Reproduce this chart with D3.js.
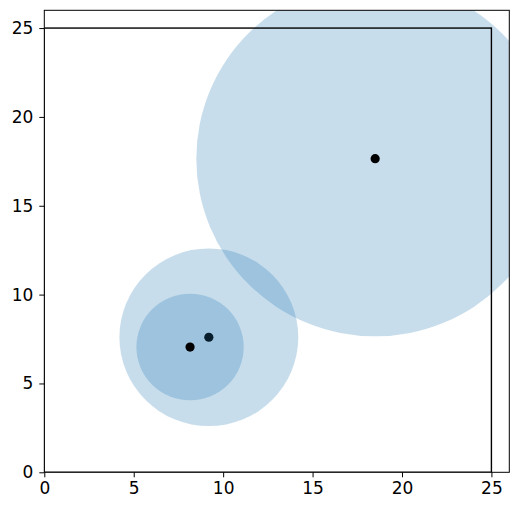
<!DOCTYPE html>
<html>
<head>
<meta charset="utf-8">
<script src="https://cdn.jsdelivr.net/npm/d3@7"></script>
<style>
  body { margin: 0; background: #fff; }
  svg { display: block; }
  .tick text { font-family: "DejaVu Sans", sans-serif; font-size: 17px; fill: #000; }
</style>
</head>
<body>
<script>
// data
const circleX = [8.15, 9.2, 18.5];
const circleY = [7.05, 7.6, 17.65];
const circleR = [3, 5, 10];
const pointX = [8.15, 9.2, 18.5];
const pointY = [7.05, 7.6, 17.65];
const boxSize = 25;
const ticks = [0, 5, 10, 15, 20, 25];

const w = 518, h = 511;
const margin = { left: 44.3, right: 8.7, top: 10.3, bottom: 38.7 };
const iw = w - margin.left - margin.right;
const ih = h - margin.top - margin.bottom;

const x = d3.scaleLinear().domain([0, 26]).range([0, iw]);
const y = d3.scaleLinear().domain([0, 26]).range([ih, 0]);

const svg = d3.select('body').append('svg')
  .attr('width', w)
  .attr('height', h);

svg.append('defs').append('clipPath')
  .attr('id', 'clip')
  .append('rect')
  .attr('width', iw)
  .attr('height', ih);

const g = svg.append('g')
  .attr('transform', `translate(${margin.left},${margin.top})`);

const plot = g.append('g').attr('clip-path', 'url(#clip)');

const fill = 'rgba(31,119,180,0.25)';

// draw order: small circle, middle point, middle circle, big circle, other points
const drawCircle = (i) => {
  plot.append('ellipse')
    .attr('cx', x(circleX[i]))
    .attr('cy', y(circleY[i]))
    .attr('rx', x(circleR[i]) - x(0))
    .attr('ry', y(0) - y(circleR[i]))
    .attr('fill', fill);
};
const drawPoint = (i) => {
  plot.append('circle')
    .attr('cx', x(pointX[i]))
    .attr('cy', y(pointY[i]))
    .attr('r', 4.6)
    .attr('fill', '#000');
};

drawCircle(0);
drawPoint(1);
drawCircle(1);
drawCircle(2);
drawPoint(0);
drawPoint(2);

// square
plot.append('rect')
  .attr('x', x(0))
  .attr('y', y(boxSize))
  .attr('width', x(boxSize) - x(0))
  .attr('height', y(0) - y(boxSize))
  .attr('fill', 'none')
  .attr('stroke', '#000')
  .attr('stroke-width', 1.4);

// axes
const xAxis = g.append('g')
  .attr('transform', `translate(0,${ih})`)
  .call(d3.axisBottom(x).tickValues(ticks).tickSize(5).tickPadding(5));
const yAxis = g.append('g')
  .call(d3.axisLeft(y).tickValues(ticks).tickSize(5).tickPadding(6));
[xAxis, yAxis].forEach(a => {
  a.select('.domain').remove();
  a.selectAll('.tick line').attr('stroke', '#000').attr('stroke-width', 1);
});

// frame
g.append('rect')
  .attr('width', iw)
  .attr('height', ih)
  .attr('fill', 'none')
  .attr('stroke', '#000')
  .attr('stroke-width', 1);
</script>
</body>
</html>
